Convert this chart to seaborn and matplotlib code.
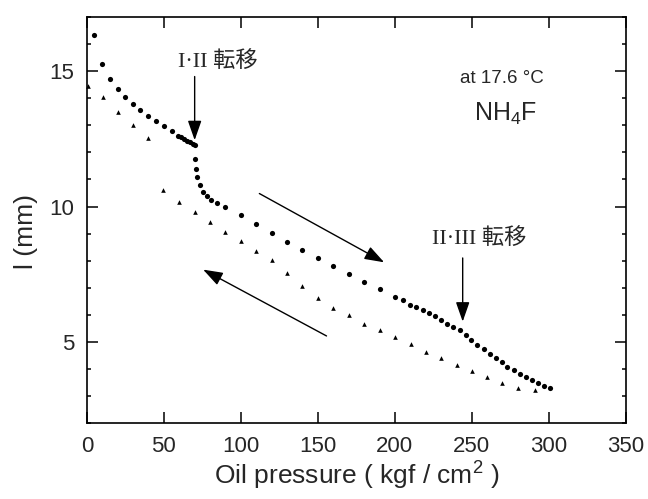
import pandas as pd
import matplotlib
matplotlib.use("Agg")
import matplotlib.pyplot as plt
from matplotlib.ticker import MultipleLocator
import seaborn as sns

# ================================================================
# DATA
# ================================================================
# compression run (pressure going up), filled circles
up_p = [4.8, 10, 15, 20.3, 25.1, 29.9, 34.6, 39.8, 44.8, 49.8, 55,
        59, 61, 63, 65, 67, 69, 70.1,
        70.1, 70.8, 71.6, 73.4, 75.5, 77.7, 80.5, 84.5, 90,
        100, 110, 120, 130, 140, 150, 160, 170, 180, 190.3, 200,
        205, 210, 214, 218, 222, 226, 230, 233.8, 238, 242, 246,
        249.5, 253.5, 257.8, 261.7, 265.4, 269.2, 273, 277, 281,
        285, 289, 293, 297, 300.5]
up_l = [16.33, 15.26, 14.7, 14.33, 14.05, 13.78, 13.57, 13.34, 13.16, 12.97, 12.79,
        12.62, 12.55, 12.49, 12.43, 12.37, 12.30, 12.26,
        11.74, 11.4, 11.1, 10.78, 10.53, 10.38, 10.25, 10.14, 9.99,
        9.68, 9.37, 9.03, 8.69, 8.40, 8.10, 7.79, 7.50, 7.23, 6.95, 6.67,
        6.56, 6.38, 6.28, 6.17, 6.06, 5.95, 5.80, 5.68, 5.55, 5.43, 5.27,
        5.08, 4.90, 4.72, 4.55, 4.40, 4.24, 4.09, 3.95, 3.82,
        3.70, 3.58, 3.47, 3.38, 3.30]

# decompression run (pressure going down), filled triangles
down_p = [1, 10.2, 20.3, 29.7, 39.8, 49.6, 59.8, 70, 80, 90, 100, 110,
          120, 130, 140, 150, 160, 170, 180, 190.3, 200, 210.6, 220,
          230, 240, 250, 259.5, 269.8, 280, 291]
down_l = [14.45, 14.05, 13.5, 13.01, 12.54, 10.6, 10.18, 9.78, 9.41, 9.05, 8.72, 8.37,
          8.04, 7.56, 7.07, 6.61, 6.25, 5.98, 5.68, 5.44, 5.17, 4.93, 4.64,
          4.40, 4.15, 3.93, 3.69, 3.49, 3.28, 3.22]

x_label = "Oil pressure ( kgf / cm$^2$ )"
y_label = "l (mm)"
trans_12 = "I·II 転移"
trans_23 = "II·III 転移"
cond_text = "at 17.6 °C"
sample_text = "NH$_4$F"

# ================================================================
# STYLE
# ================================================================
sns.set_theme(style="ticks")
plt.rcParams["font.family"] = ["Liberation Sans", "Noto Sans CJK JP"]
plt.rcParams["mathtext.fontset"] = "custom"
plt.rcParams["mathtext.rm"] = "Liberation Sans"
plt.rcParams["mathtext.it"] = "Liberation Sans"

fig = plt.figure(figsize=(6.48, 4.99), dpi=100)
ax = fig.add_axes([0.134, 0.152, 0.832, 0.814])

up_df = pd.DataFrame({"p": up_p, "l": up_l})
down_df = pd.DataFrame({"p": down_p, "l": down_l})

sns.scatterplot(data=up_df, x="p", y="l", marker="o", color="black",
                s=14, linewidth=0, ax=ax, legend=False)
sns.scatterplot(data=down_df, x="p", y="l", marker="^", color="black",
                s=11, linewidth=0, ax=ax, legend=False, clip_on=False)

ax.set_xlim(0, 350)
ax.set_ylim(2, 17)
ax.xaxis.set_major_locator(MultipleLocator(50))
ax.yaxis.set_major_locator(MultipleLocator(5))
ax.yaxis.set_minor_locator(MultipleLocator(1))
ax.tick_params(which="both", direction="in", top=True, right=True,
               color="black", width=1.1)
ax.tick_params(which="major", length=8, labelsize=16, pad=9)
ax.tick_params(which="minor", length=3)
for sp in ax.spines.values():
    sp.set_color("black")
    sp.set_linewidth(1.2)

ax.set_xlabel(x_label, fontsize=19)
ax.set_ylabel(y_label, fontsize=19)
ax.xaxis.set_label_coords(0.5, -0.09)
ax.yaxis.set_label_coords(-0.091, 0.473)

# ------------------------------------------------------------
# annotations
# ------------------------------------------------------------
serif_jp = ["Liberation Serif", "Noto Sans CJK JP"]
ax.text(85, 15.37, trans_12, fontsize=16, family=serif_jp,
        ha="center", va="center")
ax.text(255, 8.81, trans_23, fontsize=16, family=serif_jp,
        ha="center", va="center")
ax.text(269.5, 14.74, cond_text, fontsize=13.5, ha="center", va="center")
ax.text(272, 13.41, sample_text, fontsize=18, ha="center", va="center")

arrow = dict(arrowstyle="-|>,head_length=1.0,head_width=0.35",
             color="black", lw=1.0, shrinkA=0, shrinkB=0)
ax.annotate("", xy=(70, 12.45), xytext=(70, 14.8), arrowprops=arrow)
ax.annotate("", xy=(244, 5.75), xytext=(244, 8.1), arrowprops=arrow)
ax.annotate("", xy=(193, 7.94), xytext=(112, 10.48), arrowprops=arrow)
ax.annotate("", xy=(75.5, 7.67), xytext=(155.6, 5.22), arrowprops=arrow)

fig.savefig("out.png", dpi=100)
